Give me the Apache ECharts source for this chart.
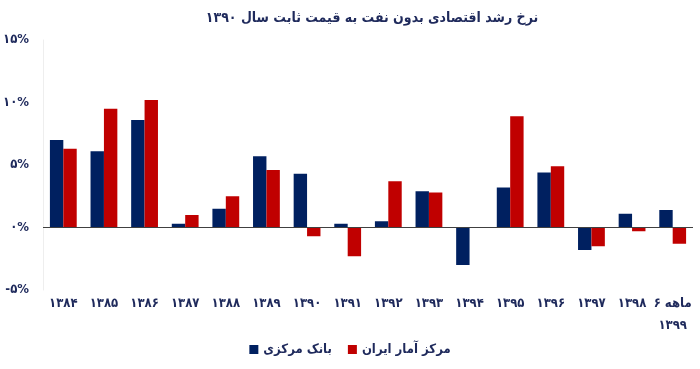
<!DOCTYPE html>
<html>
<head>
<meta charset="utf-8">
<script src="https://cdn.jsdelivr.net/npm/echarts@6/dist/echarts.min.js"></script>
<style>html,body{margin:0;padding:0;background:#fff}#c{width:700px;height:369px}</style>
</head>
<body>
<div id="c"></div>
<script>
var titleText = 'نرخ رشد اقتصادی بدون نفت به قیمت ثابت سال ۱۳۹۰';
var categories = ['۱۳۸۴','۱۳۸۵','۱۳۸۶','۱۳۸۷','۱۳۸۸','۱۳۸۹','۱۳۹۰','۱۳۹۱','۱۳۹۲','۱۳۹۳','۱۳۹۴','۱۳۹۵','۱۳۹۶','۱۳۹۷','۱۳۹۸','۶ ماهه\n۱۳۹۹'];
var seriesNames = ['بانک مرکزی', 'مرکز آمار ایران'];
var centralBank = [7.0, 6.1, 8.6, 0.3, 1.5, 5.7, 4.3, 0.3, 0.5, 2.9, -3.0, 3.2, 4.4, -1.8, 1.1, 1.4];
var statCenter = [6.3, 9.5, 10.2, 1.0, 2.5, 4.6, -0.7, -2.3, 3.7, 2.8, 0, 8.9, 4.9, -1.5, -0.3, -1.3];
var yTicks = {'-5':'-۵%','0':'۰%','5':'۵%','10':'۱۰%','15':'۱۵%'};

var textColor = '#1f2a5c';
var font = '"DejaVu Sans Condensed", "DejaVu Sans", sans-serif';
var chart = echarts.init(document.getElementById('c'), null, {renderer:'canvas'});
chart.setOption({
  animation: false,
  backgroundColor: '#fff',
  title: {
    text: titleText, left: 367, top: 6, textAlign: 'center',
    textStyle: {color: textColor, fontSize: 14, fontWeight: 'bold', fontFamily: font}
  },
  legend: {
    data: seriesNames, bottom: 8, left: 'center', itemWidth: 9, itemHeight: 9, itemGap: 16,
    icon: 'rect',
    textStyle: {color: textColor, fontSize: 13, fontWeight: 'bold', fontFamily: font}
  },
  grid: {left: 41, right: 7, top: 40, height: 250, containLabel: false},
  xAxis: {
    type: 'category', data: categories,
    axisLine: {show: false, onZero: false},
    axisTick: {show: false},
    axisLabel: {color: textColor, fontSize: 13, fontWeight: 'bold', fontFamily: font, margin: 3, lineHeight: 22, interval: 0}
  },
  yAxis: {
    type: 'value', min: -5, max: 15, interval: 5,
    axisLine: {show: true, lineStyle: {color: '#eeeeee'}},
    axisTick: {show: false},
    splitLine: {show: false},
    axisLabel: {color: textColor, fontSize: 13, fontWeight: 'bold', fontFamily: font, margin: 14,
      formatter: function (v) { return yTicks[String(v)] || ''; }}
  },
  series: [
    {name: seriesNames[0], type: 'bar', data: centralBank, itemStyle: {color: '#002060'},
     barGap: '0%', barCategoryGap: '34%',
     markLine: {silent: true, symbol: 'none', label: {show: false},
       lineStyle: {color: '#404040', width: 1, type: 'solid'}, data: [{yAxis: 0}]}},
    {name: seriesNames[1], type: 'bar', data: statCenter, itemStyle: {color: '#c00000'},
     barGap: '0%', barCategoryGap: '34%'}
  ]
});
</script>
</body>
</html>
